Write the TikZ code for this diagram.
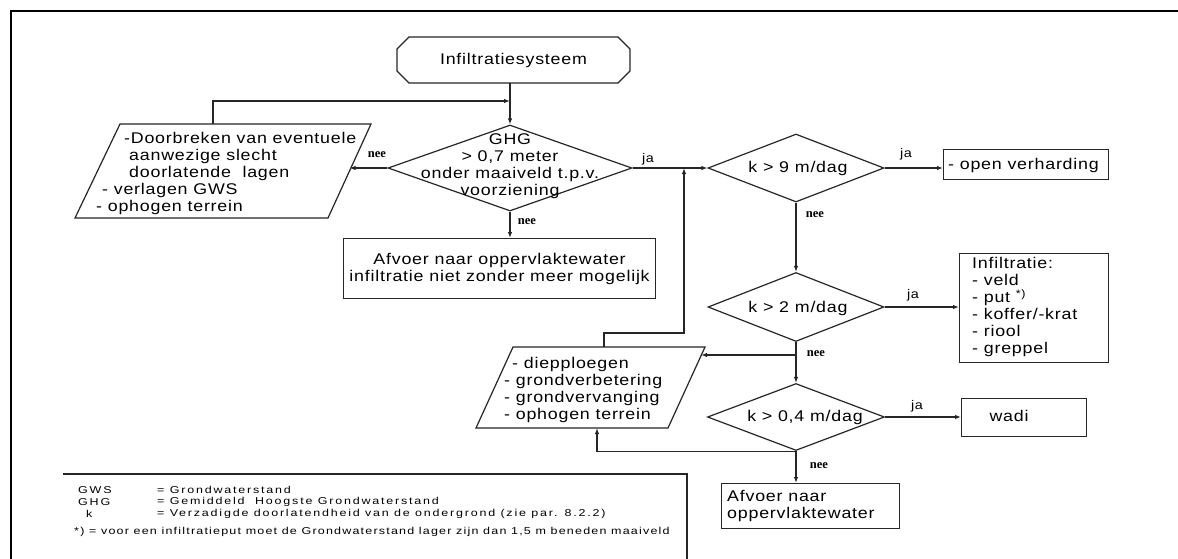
\documentclass[tikz,border=0pt]{standalone}
\usepackage{fontspec}
\setmainfont{Liberation Sans}[FakeStretch=1.15,LetterSpace=5]
\newfontfamily\labfont{Liberation Serif}
\newfontfamily\legfont{Liberation Sans}[FakeStretch=1.25,LetterSpace=12]
\newfontfamily\legwide{Liberation Sans}[FakeStretch=1.25,LetterSpace=18]
\usetikzlibrary{shapes.geometric,arrows.meta,calc}
\begin{document}
\begin{tikzpicture}[x=1pt,y=-1pt,
  ln/.style={line width=1.2pt,draw=black!85},
  arr/.style={ln,-{Latex[length=6pt,width=4.5pt]}},
  shp/.style={draw=black!85,line width=1.2pt,inner sep=0pt},
  boxs/.style={shp,rectangle,anchor=north west},
  dias/.style={shp,diamond},
  txt/.style={font=\fontsize{15.5}{17}\selectfont,inner sep=0pt},
  neelbl/.style={font=\labfont\bfseries\fontsize{12.5}{13}\selectfont,inner sep=0pt},
  jalbl/.style={font=\fontsize{12.5}{13}\selectfont,inner sep=0pt},
  leg/.style={font=\legwide\fontsize{10}{12}\selectfont,inner sep=0pt,anchor=west},
  legfn/.style={font=\legfont\fontsize{10}{12}\selectfont,inner sep=0pt,anchor=west}]
\useasboundingbox (0,0) rectangle (1178,558);
\fill[white] (0,0) rectangle (1178,558);
% frame
\draw[line width=2.5pt] (11,560) -- (11,11) -- (1180,11);

% start
\draw[ln] (409,37) -- (618,37) -- (630,49) -- (630,71) -- (618,83) -- (409,83) -- (397,71) -- (397,49) -- cycle;
\node[txt,minimum width=233,minimum height=46] (start) at (513.5,60) {Infiltratiesysteem};

% diamonds
\node[dias,minimum width=244,minimum height=86] (d1) at (510,168) {};
\node[txt,align=center] at (510,166) {GHG\\> 0,7 meter\\onder maaiveld t.p.v.\\voorziening};
\node[dias,minimum width=176,minimum height=68] (d2) at (796,168) {};
\node[txt] at (798,168) {k > 9 m/dag};
\node[dias,minimum width=176,minimum height=69] (d3) at (796,307) {};
\node[txt] at (798,308) {k > 2 m/dag};
\node[dias,minimum width=177,minimum height=67] (d4) at (796,417) {};
\node[txt] at (805,417) {k > 0,4 m/dag};

% boxes
\node[boxs,minimum width=312,minimum height=60] (b1) at (343,238) {};
\node[txt,align=center] at (b1.center) {Afvoer naar oppervlaktewater\\infiltratie niet zonder meer mogelijk};
\node[boxs,minimum width=165,minimum height=30] (b2) at (943,149) {};
\node[txt,anchor=west] at (948,165) {- open verharding};
\node[boxs,minimum width=149,minimum height=109] (b3) at (959,253) {};
\node[txt,anchor=north west,align=left] at (972,257) {Infiltratie:\\- veld\\- put \textsuperscript{*)}\\- koffer/-krat\\- riool\\- greppel};
\node[boxs,minimum width=125,minimum height=38] (b4) at (961,398) {};
\node[txt] at (1009,416) {wadi};
\node[boxs,minimum width=178,minimum height=45] (b5) at (721,483) {};
\node[txt,anchor=west,align=left] at (727,506) {Afvoer naar\\oppervlaktewater};

% parallelogram 1
\coordinate (p1a) at (120,124);
\coordinate (p1b) at (371,124);
\coordinate (p1c) at (328,218);
\coordinate (p1d) at (75,218);
\draw[ln] (p1a) -- (p1b) -- (p1c) -- (p1d) -- cycle;
\node[txt,anchor=north west,align=left] (p1txt) at (96,132) {\hspace*{28pt}-Doorbreken van eventuele\\\hspace*{33pt}aanwezige slecht\\\hspace*{33pt}doorlatende\ \ lagen\\\hspace*{6pt}- verlagen GWS\\- ophogen terrein};
\coordinate (p1r) at (349.5,168);
\coordinate (p1t) at (213,124);
\coordinate (m1) at (510,101);

% parallelogram 2
\coordinate (p2a) at (513,347);
\coordinate (p2b2) at (705,347);
\coordinate (p2c) at (668,428);
\coordinate (p2d) at (476,428);
\draw[ln] (p2a) -- (p2b2) -- (p2c) -- (p2d) -- cycle;
\node[txt,anchor=north west,align=left] (p2txt) at (504,357) {\hspace*{8pt}- diepploegen\\- grondverbetering\\- grondvervanging\\- ophogen terrein};
\coordinate (p2r) at (701,355);
\coordinate (p2t) at (604,347);
\coordinate (p2b) at (597,428);
\coordinate (br) at (796,355);
\coordinate (c1) at (684,333);
\coordinate (j) at (684,168);

% connectors
\draw[arr] (start.south -| d1.north) -- (d1.north);
\draw[arr] (d1.west) -- (p1r);
\draw[arr] (p1t) |- (m1);
\draw[arr] (d1.south) -- (b1.north -| d1.south);
\draw[arr] (d1.east) -- (d2.west);
\draw[arr] (p2t) |- (c1) -- (j);
\draw[arr] (d2.east) -- (d2.east -| b2.west);
\draw[arr] (d2.south) -- (d3.north);
\draw[arr] (d3.east) -- (d3.east -| b3.west);
\draw[arr] (d3.south) -- (d4.north);
\draw[arr] (br) -- (p2r);
\draw[arr] (d4.east) -- (d4.east -| b4.west);
\draw[arr] (d4.south) -- (b5.north -| d4.south);
\draw[arr] (d4.south) -| (p2b);

% labels
\node[neelbl] at (377,155) {nee};
\node[neelbl] at (527,222) {nee};
\node[jalbl] at (648,159) {ja};
\node[jalbl] at (906,154) {ja};
\node[neelbl] at (815,215) {nee};
\node[jalbl] at (913,295) {ja};
\node[neelbl] at (816,354) {nee};
\node[jalbl] at (917,406) {ja};
\node[neelbl] at (819,466) {nee};

% legend
\draw[ln] (63,474) -- (687,474) -- (687,560);
\node[leg] at (78,490) {GWS};
\node[leg] at (78,502) {GHG};
\node[leg] at (86,514) {k};
\node[leg] at (157,490) {= Grondwaterstand};
\node[leg] at (157,502) {= Gemiddeld\ \ Hoogste Grondwaterstand};
\node[leg] at (157,514) {= Verzadigde doorlatendheid van de ondergrond (zie par. 8.2.2)};
\node[legfn] at (74,532) {*) = voor een infiltratieput moet de Grondwaterstand lager zijn dan 1,5 m beneden maaiveld};
\end{tikzpicture}
\end{document}
